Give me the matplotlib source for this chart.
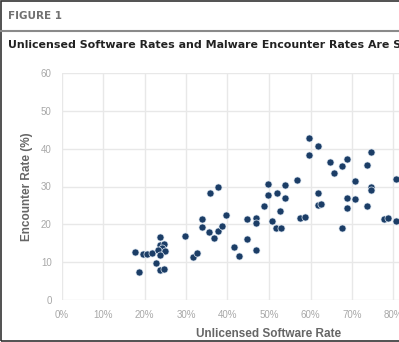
import matplotlib
matplotlib.use("Agg")
import matplotlib.pyplot as plt
from matplotlib.lines import Line2D
from matplotlib.patches import Rectangle

# Data (unlicensed software rate in %, encounter rate in %)
software_rate = [17.7, 19.7, 20.5, 21.7, 18.7, 22.7, 23.7, 23.7, 24.8, 24.1,
                 23.3, 24.9, 23.7, 23.7, 24.8, 29.8, 31.8, 32.7, 33.8, 33.8,
                 35.6, 36.7, 37.6, 35.8, 37.8, 38.7, 39.6, 41.6, 42.8, 44.8,
                 44.8, 46.8, 46.8, 46.8, 48.8, 49.7, 49.8, 51.9, 53.9, 53.9,
                 52.7, 50.7, 51.7, 52.8, 56.7, 57.4, 58.7, 59.7, 61.7, 59.7,
                 64.7, 65.7, 67.7, 68.7, 74.6, 73.7, 70.7, 74.5, 74.5, 80.6,
                 61.7, 61.7, 62.5, 68.7, 70.7, 68.7, 73.7, 67.7, 77.7, 78.7,
                 80.6]
encounter_rate = [12.6, 12.1, 12.1, 12.5, 7.3, 9.9, 16.6, 14.6, 14.7, 13.7,
                  13.2, 13.0, 11.9, 7.8, 8.2, 16.9, 11.3, 12.4, 21.4, 19.4,
                  18.1, 16.5, 18.3, 28.4, 30.0, 19.6, 22.5, 13.9, 11.5, 21.3,
                  16.1, 21.6, 20.3, 13.2, 24.9, 30.6, 27.8, 28.4, 30.4, 26.9,
                  23.6, 21.0, 19.1, 19.1, 31.6, 21.6, 22.0, 42.9, 40.7, 38.4,
                  36.6, 33.7, 35.3, 37.2, 39.2, 35.6, 31.5, 29.8, 29.1, 32.1,
                  28.4, 25.1, 25.4, 27.0, 26.8, 24.4, 24.9, 19.1, 21.3, 21.8,
                  20.9]
x_ticks = [0, 10, 20, 30, 40, 50, 60, 70, 80]
x_tick_labels = [f"{v}%" for v in x_ticks]
y_ticks = [0, 10, 20, 30, 40, 50, 60]

W, H = 399, 342
fig = plt.figure(figsize=(W / 100, H / 100), dpi=100)
fig.patch.set_facecolor("white")

# Header
fig.text(8 / W, 1 - 16 / H, "FIGURE 1", fontsize=7.5, fontweight="bold",
         color="#707070", family="DejaVu Sans", va="center", ha="left")
fig.add_artist(Line2D([0, 1], [1 - 31 / H, 1 - 31 / H], color="#8a8a8a",
                      lw=1.5, transform=fig.transFigure))
fig.text(8 / W, 1 - 45 / H,
         "Unlicensed Software Rates and Malware Encounter Rates Are Strongly Correlated",
         fontsize=7.9, fontweight="bold", color="#222222", family="DejaVu Sans",
         va="center", ha="left")

# Frame border
fig.add_artist(Rectangle((0.5 / W, 1.5 / H), 1.2, 1 - 2.5 / H, fill=False,
                         edgecolor="#333333", lw=1.2, transform=fig.transFigure))

left, right = 61.5, 476.5
top, bottom = 73, 300
ax = fig.add_axes([left / W, 1 - bottom / H, (right - left) / W, (bottom - top) / H])
ax.scatter(software_rate, encounter_rate, s=26, color="#1b3d66",
           edgecolors="#dfe8f2", linewidths=0.5, zorder=3)
ax.set_xlim(0, 100)
ax.set_ylim(0, 60)
ax.set_xticks(x_ticks)
ax.set_xticklabels(x_tick_labels)
ax.set_yticks(y_ticks)
ax.grid(True, color="#e8e8e8", lw=1.0, zorder=0)
for s in ax.spines.values():
    s.set_visible(False)
ax.tick_params(length=0, labelsize=7, labelcolor="#a8a8a8", pad=7)
for lab in ax.get_xticklabels() + ax.get_yticklabels():
    lab.set_family("Liberation Sans")
ax.set_xlabel("Unlicensed Software Rate", fontsize=8.5, fontweight="bold",
              color="#666666", family="Liberation Sans", labelpad=6)
ax.set_ylabel("Encounter Rate (%)", fontsize=8.5, fontweight="bold",
              color="#666666", family="Liberation Sans", labelpad=6)

fig.savefig("out.png", dpi=100)
